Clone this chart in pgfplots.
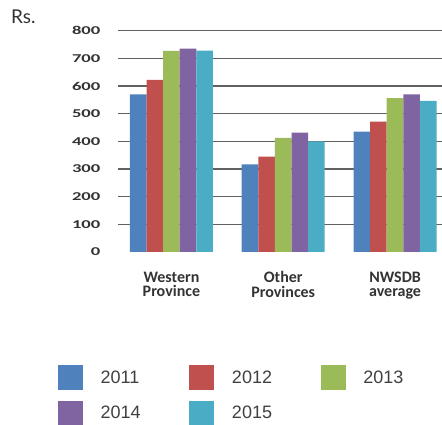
\documentclass[border=0pt]{standalone}
\usepackage{fontspec}
\setmainfont{Carlito}
\newfontfamily\legfont{Liberation Sans}
\newfontfamily\rsfont{Lato}
\usepackage{pgfplots}
\pgfplotsset{compat=1.18}
\definecolor{c1}{HTML}{4F81BD}
\definecolor{c2}{HTML}{C0504D}
\definecolor{c3}{HTML}{9BBB59}
\definecolor{c4}{HTML}{8064A2}
\definecolor{c5}{HTML}{4BACC6}
\pgfplotsset{
  leg/.style={legend image code/.code={\fill[##1] (0pt,-12.5pt) rectangle (25pt,12.5pt); \path (42.7pt,0pt);}}
}
\begin{document}
\begin{tikzpicture}[x=1pt,y=1pt]
\useasboundingbox (0,0) rectangle (442,425);
\node[anchor=base west, inner sep=0pt, font=\rsfont\fontsize{19}{22}\selectfont, text=black!80] at (11,401) {Rs.};
\begin{axis}[
  at={(118pt,173pt)}, anchor=south west,
  scale only axis, width=324pt, height=221.3pt,
  xmin=-0.478, xmax=2.42, ymin=0, ymax=800,
  ybar=0pt, bar width=16.6pt,
  axis line style={draw=none},
  major tick length=0pt,
  /pgf/number format/assume math mode=true,
  ytick={100,200,...,800},
  extra y ticks={0}, extra y tick style={grid=none},
  ymajorgrids, grid style={color=black!62, line width=1.3pt},
  yticklabel={\scalebox{1.55}[1]{\pgfmathprintnumber{\tick}}},
  yticklabel style={font=\bfseries\fontsize{12}{12}\selectfont, text=black!80, anchor=east, inner sep=0pt, xshift=-17.5pt},
  xtick={0,1,2},
  xticklabels={Western\\Province, Other\\Provinces, NWSDB\\average},
  xticklabel style={align=center, font=\bfseries\fontsize{16}{14.7}\selectfont, text=black!80, anchor=north, inner sep=0pt, yshift=-19.5pt},
  legend columns=3,
  legend cell align=left,
  legend style={at={(-0.1852,-0.5106)}, anchor=north west, draw=none, fill=none, inner sep=0pt, outer sep=0pt, column sep=0pt, row sep=10.7pt,
    nodes={inner sep=0pt, text width=88.6pt, font=\legfont\fontsize{18}{18}\selectfont, text=black!75, anchor=west}},
]
\addplot[fill=c1, draw=none, leg] coordinates {(0,570) (1,317) (2,435)};
\addplot[fill=c2, draw=none, leg] coordinates {(0,622) (1,345) (2,471)};
\addplot[fill=c3, draw=none, leg] coordinates {(0,727) (1,413) (2,556)};
\addplot[fill=c4, draw=none, leg] coordinates {(0,735) (1,432) (2,570)};
\addplot[fill=c5, draw=none, leg] coordinates {(0,728) (1,400) (2,546)};
\legend{2011,2012,2013,2014,2015}
\draw[black!20, line width=0.8pt] (axis cs:-0.478,0) -- (axis cs:2.42,0);
\end{axis}
\end{tikzpicture}
\end{document}
